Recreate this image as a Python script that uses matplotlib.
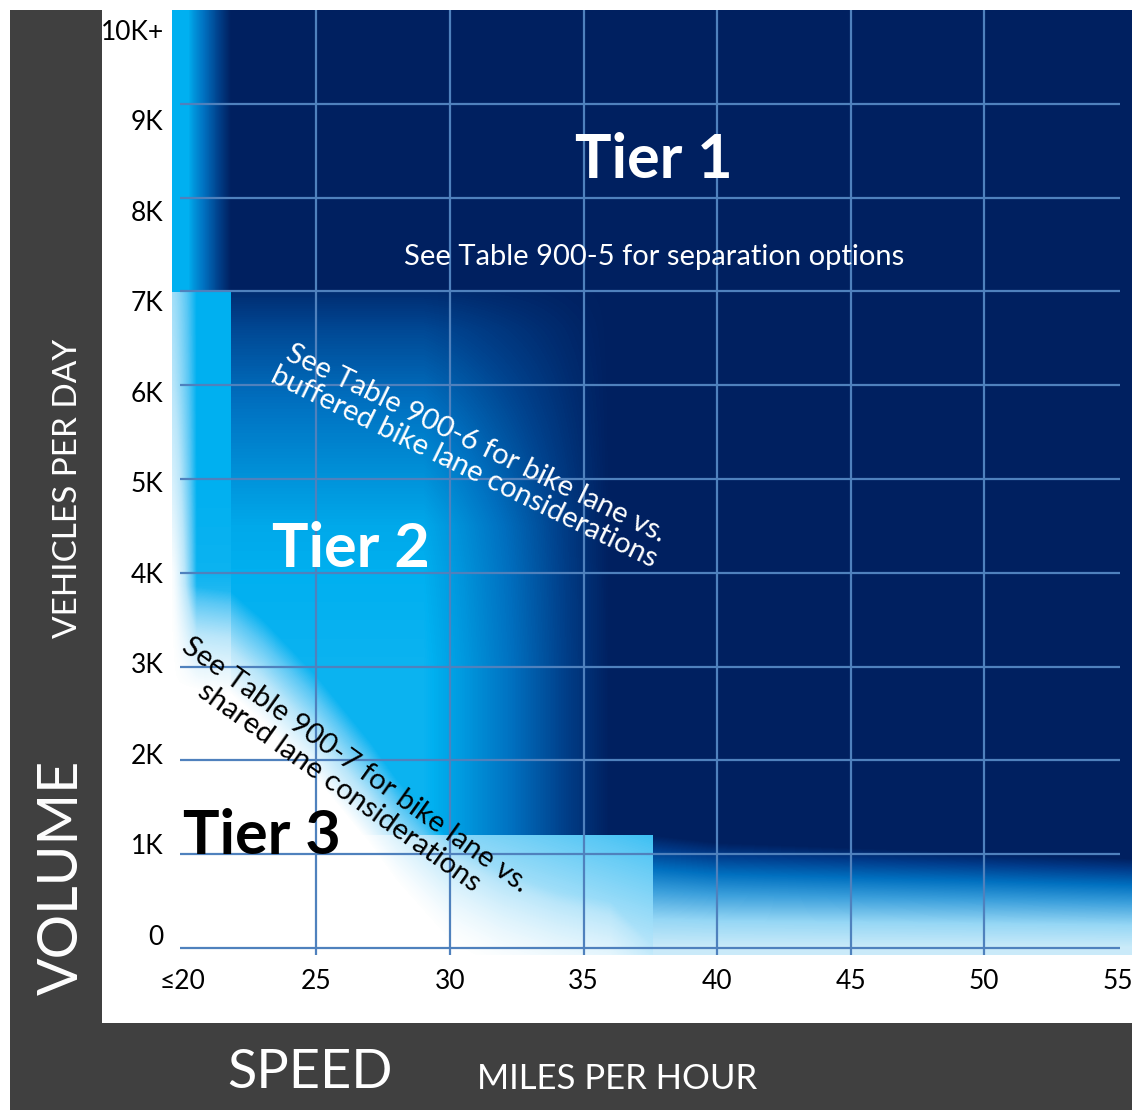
import numpy as np
import matplotlib
matplotlib.use("Agg")
from matplotlib import pyplot as plt
from matplotlib.colors import LinearSegmentedColormap
from matplotlib.patches import Rectangle

plt.rcParams['font.family'] = ['Lato', 'DejaVu Sans']

# axis ticks
speed_ticks = [20, 25, 30, 35, 40, 45, 50, 55]
speed_labels = ["≤20", "25", "30", "35", "40", "45", "50", "55"]
volume_ticks = [0, 1, 2, 3, 4, 5, 6, 7, 8, 9, 10]
volume_labels = ["0", "1K", "2K", "3K", "4K", "5K", "6K", "7K", "8K", "9K", "10K+"]
grid_speeds = [25, 30, 35, 40, 45, 50]
grid_volumes = [0, 1, 2, 3, 4, 5, 6, 7, 8, 9]

# tier zones (speed in mph, volume in thousands of vehicles/day)
strip_end = 21.8          # left fading strip
tier2_right = 37.4        # right edge of tier 2 block
tier2_top = 7.0           # top edge of tier 2 block
overlay_left, overlay_right, overlay_top = 25.8, 37.6, 1.2

strip_vol = [3, 4, 5, 6, 7, 8, 9, 10]
strip_edge_shade = [0.0, 0.02, 0.15, 0.25, 0.3, 0.5, 0.6, 0.6]
strip_peak_shade = [0.4, 0.58, 0.6, 0.6, 0.6, 0.6, 0.6, 0.6]

t2_vol = [3, 4, 4.5, 5, 6, 6.6, 7]
t2_vol_shade = [0.58, 0.6, 0.62, 0.68, 0.8, 0.88, 0.96]
t2_spd = [21.8, 29, 30.5, 32.5, 34.5, 36, 37.4]
t2_spd_shade = [0.0, 0.0, 0.2, 0.5, 0.8, 1.0, 1.0]

t3_spd = [19.6, 21.8, 23, 25, 27, 28, 30, 32, 34, 36, 38]
t3_vol = [3.4, 3.3, 3.0, 2.4, 1.7, 1.3, 0.65, 0.3, 0.1, 0.0, -0.6]

band_spd = [37.6, 40, 55.6]
band_top = [1.2, 1.12, 0.95]
band_pos = [0, 0.25, 0.5, 0.7, 0.9, 1.0]
band_shade = [0.22, 0.35, 0.55, 0.75, 0.92, 1.0]

W, H = 1132, 1110
fig = plt.figure(figsize=(W / 100, H / 100), dpi=100)
fig.patch.set_facecolor("white")

# dark frame
fig.patches.append(Rectangle((10 / W, 0), 92 / W, 1100 / H, transform=fig.transFigure,
                             facecolor="#404040", edgecolor="none", zorder=0))
fig.patches.append(Rectangle((10 / W, 0), 1122 / W, 87 / H, transform=fig.transFigure,
                             facecolor="#404040", edgecolor="none", zorder=0))

xmin, xmax = 19.59, 55.54
ymin, ymax = -0.075, 10.0
ax = fig.add_axes([172 / W, 1 - 955 / H, (1132 - 172) / W, (955 - 10) / H])
ax.set_xlim(xmin, xmax)
ax.set_ylim(ymin, ymax)

# shading field
xs = np.linspace(xmin, xmax, 960)
ys = np.linspace(ymin, ymax, 945)
X, Y = np.meshgrid(xs, ys)
T = np.ones_like(X)

# left strip
e = np.interp(Y, strip_vol, strip_edge_shade)
pk = np.interp(Y, strip_vol, strip_peak_shade)
r = np.clip((X - xmin) / (20.5 - xmin), 0, 1) ** 1.3
strip = e + (pk - e) * r
dark = 0.6 + 0.4 * np.clip((X - 20.2) / 1.6, 0, 1) ** 0.8
strip = np.where(Y >= tier2_top, np.maximum(strip, dark), strip)
T = np.where(X < strip_end, strip, T)

# tier 2 block
v = np.interp(Y, t2_vol, t2_vol_shade)
g = np.interp(X, t2_spd, t2_spd_shade)
t2 = v + (1 - v) * g
in_t2 = (X >= strip_end) & (X < tier2_right) & (Y < tier2_top)
T = np.where(in_t2, t2, T)

# lighter overlay at the bottom of tier 2
ov = np.clip(0.1 + 0.25 * (Y / overlay_top) + 0.15 * ((X - 30) / 7.6), 0, 0.5)
in_ov = (X >= overlay_left) & (X < overlay_right) & (Y < overlay_top)
T = np.where(in_ov, ov, T)

# tier 3 whitening
m = np.clip((np.interp(X, t3_spd, t3_vol) - Y) / 1.1 + 0.45, 0, 1)
T = T * (1 - m)

# bottom band at high speeds (own, softer colour ramp)
s = np.clip(Y / np.interp(X, band_spd, band_top), 0, 1)
band = np.interp(s, band_pos, band_shade)
in_band = X >= overlay_right
T = np.where(in_band, np.nan, T)
B = np.where(in_band, band, np.nan)

cmap = LinearSegmentedColormap.from_list("tiers", [
    (0.0, "#ffffff"), (0.25, "#b9e6fa"), (0.45, "#5ac8f5"), (0.6, "#00b0f0"),
    (0.78, "#0070c0"), (0.9, "#00418c"), (1.0, "#002060")])
band_cmap = LinearSegmentedColormap.from_list("band", [
    (0.0, "#ffffff"), (0.2, "#d2eefa"), (0.35, "#96d7f5"), (0.55, "#3ca0dc"),
    (0.75, "#0070c0"), (0.9, "#003c8c"), (1.0, "#002060")])
ax.imshow(T, extent=(xmin, xmax, ymin, ymax), origin="lower", aspect="auto",
          cmap=cmap, vmin=0, vmax=1, interpolation="nearest", zorder=0)
ax.imshow(B, extent=(xmin, xmax, ymin, ymax), origin="lower", aspect="auto",
          cmap=band_cmap, vmin=0, vmax=1, interpolation="nearest", zorder=0)

# grid
gcol = "#4f81bd"
ax.vlines(grid_speeds, -0.1, ymax, color=gcol, lw=1.6, zorder=2)
ax.hlines(grid_volumes, 19.9, 55.1, color=gcol, lw=1.6, zorder=2)

for sp in ax.spines.values():
    sp.set_visible(False)
ax.set_xticks(speed_ticks)
ax.set_xticklabels(speed_labels, fontsize=19)
# labels sit on a slightly tighter spacing than the grid lines
ax.set_yticks([0.139 + 0.965 * v for v in volume_ticks])
ax.set_yticklabels(volume_labels, fontsize=19)
ax.tick_params(length=0)
ax.tick_params(axis="y", pad=6)
ax.tick_params(axis="x", pad=10)

# tier labels
ax.text(37.64, 8.40, "Tier 1", color="white", fontsize=44, fontweight="bold",
        ha="center", va="center", zorder=3)
ax.text(37.64, 7.37, "See Table 900-5 for separation options", color="white",
        fontsize=21, ha="center", va="center", zorder=3)
ax.text(26.29, 4.25, "Tier 2", color="white", fontsize=44, fontweight="bold",
        ha="center", va="center", zorder=3)
ax.text(20.0, 1.19, "Tier 3", color="black", fontsize=44, fontweight="bold",
        ha="left", va="center", zorder=3)
ax.text(30.75, 5.25, "See Table 900-6 for bike lane vs.\nbuffered bike lane considerations",
        color="white", fontsize=21, ha="center", va="center", ma="center",
        rotation=-26, rotation_mode="anchor", linespacing=1.05, zorder=3)
ax.text(26.14, 1.83, "See Table 900-7 for bike lane vs.\nshared lane considerations",
        color="black", fontsize=21, ha="center", va="center", ma="center",
        rotation=-35.5, rotation_mode="anchor", linespacing=1.05, zorder=3)

# frame captions
fig.text(68 / W, 1 - 488 / H, "VEHICLES PER DAY", color="white", fontsize=24,
         rotation=90, ha="center", va="center")
fig.text(62 / W, 1 - 877 / H, "VOLUME", color="white", fontsize=40,
         rotation=90, ha="center", va="center")
fig.text(310 / W, 1 - 1073 / H, "SPEED", color="white", fontsize=39,
         ha="center", va="center")
fig.text(617 / W, 1 - 1079 / H, "MILES PER HOUR", color="white", fontsize=25,
         ha="center", va="center")

fig.savefig("out.png", dpi=100)
